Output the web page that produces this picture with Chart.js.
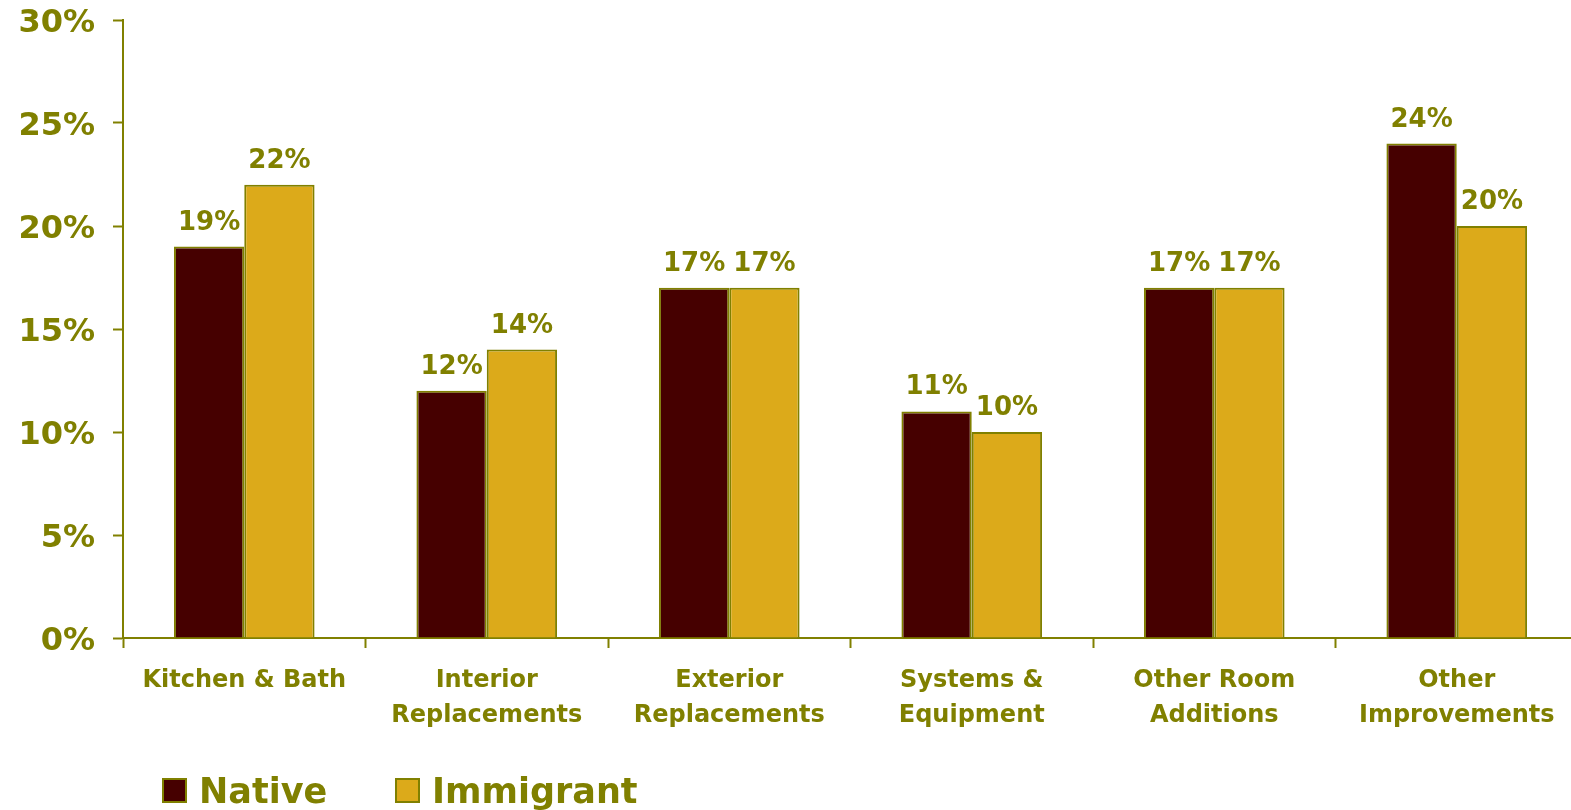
<!DOCTYPE html>
<html>
<head>
<meta charset="utf-8">
<script src="https://cdn.jsdelivr.net/npm/chart.js@4.4.1/dist/chart.umd.min.js"></script>
<style>
  html, body { margin: 0; padding: 0; background: #ffffff; overflow: hidden; }
  #wrap { width: 1580px; height: 810px; position: relative; }
</style>
</head>
<body>
<div id="wrap"><canvas id="c"></canvas></div>
<script>
const categories = [
  "Kitchen & Bath",
  ["Interior", "Replacements"],
  ["Exterior", "Replacements"],
  ["Systems &", "Equipment"],
  ["Other Room", "Additions"],
  ["Other", "Improvements"]
];
const nativeValues = [19, 12, 17, 11, 17, 24];
const immigrantValues = [22, 14, 17, 10, 17, 20];
const seriesNames = ["Native", "Immigrant"];
const yTicks = [0, 5, 10, 15, 20, 25, 30];

const OLIVE = "#808000";
const NATIVE = "#460000";
const GOLD = "#DCAA1A";
const FONT = "'DejaVu Sans', Verdana, sans-serif";

const valueLabels = {
  id: "valueLabels",
  afterDatasetsDraw(chart) {
    const ctx = chart.ctx;
    ctx.save();
    ctx.fillStyle = OLIVE;
    ctx.font = "bold 26px " + FONT;
    ctx.textAlign = "center";
    ctx.textBaseline = "alphabetic";
    chart.data.datasets.forEach((ds, i) => {
      chart.getDatasetMeta(i).data.forEach((bar, j) => {
        ctx.fillText(ds.data[j] + "%", bar.x, bar.y - 17);
      });
    });
    ctx.restore();
  }
};

const customLegend = {
  id: "customLegend",
  afterDraw(chart) {
    const ctx = chart.ctx;
    const pos = [163, 396];
    ctx.save();
    ctx.font = "bold 35px " + FONT;
    ctx.textBaseline = "alphabetic";
    ctx.textAlign = "left";
    chart.data.datasets.forEach((ds, i) => {
      const x = pos[i];
      ctx.fillStyle = ds.backgroundColor;
      ctx.fillRect(x, 779, 23, 23);
      ctx.strokeStyle = OLIVE;
      ctx.lineWidth = 2;
      ctx.strokeRect(x, 779, 23, 23);
      ctx.fillStyle = OLIVE;
      ctx.fillText(ds.label, x + 36, 803);
    });
    ctx.restore();
  }
};

new Chart(document.getElementById("c"), {
  type: "bar",
  data: {
    labels: categories,
    datasets: [
      { label: seriesNames[0], data: nativeValues, backgroundColor: NATIVE, borderColor: OLIVE, borderWidth: 2 },
      { label: seriesNames[1], data: immigrantValues, backgroundColor: GOLD, borderColor: OLIVE, borderWidth: 2 }
    ]
  },
  options: {
    responsive: true,
    maintainAspectRatio: false,
    animation: false,
    layout: { padding: { left: 0, top: 20, right: 2, bottom: 72 } },
    datasets: { bar: { categoryPercentage: 0.58, barPercentage: 1.0 } },
    plugins: {
      legend: { display: false },
      tooltip: { enabled: false }
    },
    scales: {
      x: {
        grid: { display: true, drawOnChartArea: false, drawTicks: true, tickLength: 10, tickColor: OLIVE, tickWidth: 2, offset: true },
        border: { display: true, color: OLIVE, width: 2 },
        ticks: {
          color: OLIVE,
          font: { family: FONT, size: 24, weight: "bold", lineHeight: 1.46 },
          padding: 15,
          maxRotation: 0,
          autoSkip: false
        },
        afterFit(s) { s.height = 100; s.paddingLeft = 0; s.paddingRight = 0; }
      },
      y: {
        min: 0,
        max: 30,
        afterBuildTicks(s) { s.ticks = yTicks.map(v => ({ value: v })); },
        grid: { display: true, drawOnChartArea: false, drawTicks: true, tickLength: 10, tickColor: OLIVE, tickWidth: 2 },
        border: { display: true, color: OLIVE, width: 2 },
        ticks: {
          color: OLIVE,
          font: { family: FONT, size: 32, weight: "bold" },
          padding: 18,
          labelOffset: 4,
          callback: v => v + "%"
        },
        afterFit(s) { s.width = 123; s.paddingTop = 0; s.paddingBottom = 0; }
      }
    }
  },
  plugins: [valueLabels, customLegend]
});
</script>
</body>
</html>
